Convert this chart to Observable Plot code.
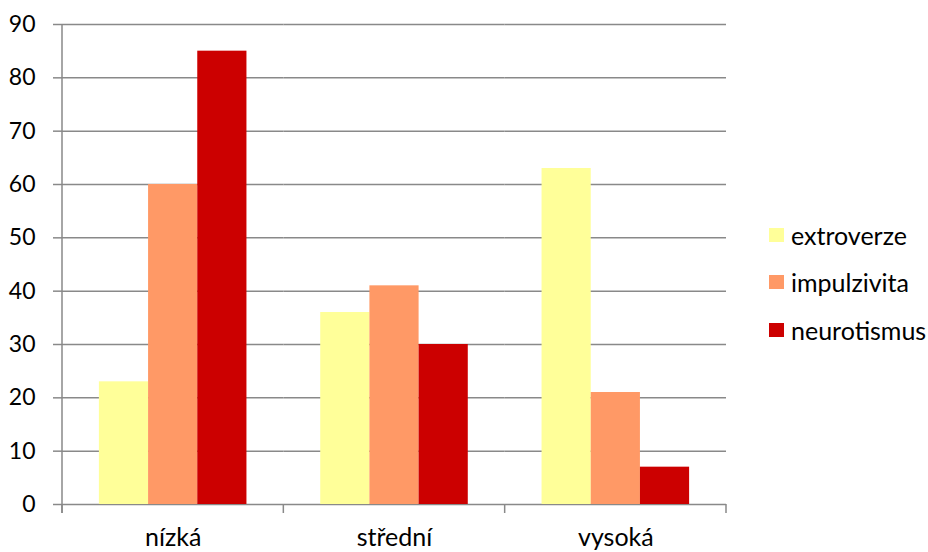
<!DOCTYPE html>
<html><head><meta charset="utf-8">
<script src="https://cdn.jsdelivr.net/npm/d3@7"></script>
<script src="https://cdn.jsdelivr.net/npm/@observablehq/plot@0.6"></script>
<style>
body{margin:0;background:#fff}
#wrap{position:relative;width:928px;height:552px;font-family:Lato,sans-serif}
#legend{position:absolute;left:769px;top:211px}
.row{display:flex;align-items:center;height:47.5px;font-size:25px;color:#000;white-space:nowrap}
.sw{width:15px;height:14px;margin-right:7px;flex:none}
</style></head><body><div id="wrap"></div>
<script>
const categories = ["nízká", "střední", "vysoká"];
const series = ["extroverze", "impulzivita", "neurotismus"];
const extroverze = [23, 36, 63];
const impulzivita = [60, 41, 21];
const neurotismus = [85, 30, 7];
const colors = ["#FFFF99", "#FF9966", "#CC0000"];
const yTicks = [0, 10, 20, 30, 40, 50, 60, 70, 80, 90];

const values = {extroverze, impulzivita, neurotismus};
const data = categories.flatMap((c, i) => series.map(s => ({category: c, series: s, value: values[s][i]})));
const grid = "#898989";

const plot = Plot.plot({
  width: 928, height: 552,
  marginTop: 24, marginBottom: 48, marginLeft: 62, marginRight: 202,
  style: {fontFamily: "Lato, sans-serif", fontSize: "23px", color: "#000", background: "#fff"},
  fx: {domain: categories, padding: 0, round: false, label: null, axis: null},
  x: {domain: series, paddingInner: 0, paddingOuter: 0.75, round: false, axis: null},
  y: {domain: [0, 90], axis: null},
  color: {domain: series, range: colors},
  marks: [
    Plot.gridY(yTicks, {stroke: grid, strokeOpacity: 1, strokeWidth: 1.5}),
    Plot.barY(data, {fx: "category", x: "series", y: "value", fill: "series"}),
    Plot.axisY(yTicks, {tickSize: 9, tickPadding: 18, stroke: grid, strokeWidth: 1.5, label: null, fill: "#000", fontSize: 23}),
    Plot.axisFx({anchor: "bottom", tickSize: 0, tickPadding: 24, label: null, fill: "#000", fontSize: 25})
  ]
});

// category boundary ticks and the vertical axis line, placed through the library's scales
const fx = plot.scale("fx");
const ys = plot.scale("y");
const band = d3.scaleBand(fx.domain, fx.range).paddingInner(fx.paddingInner ?? 0).paddingOuter(fx.paddingOuter ?? 0);
const bounds = fx.domain.map(d => band(d)).concat([band(fx.domain[fx.domain.length - 1]) + band.step()]);
const y0 = ys.apply(0), yTop = ys.apply(yTicks[yTicks.length - 1]);
const g = d3.select(plot).append("g").attr("stroke", grid).attr("stroke-width", 1.5);
g.append("line").attr("x1", bounds[0]).attr("x2", bounds[0]).attr("y1", yTop).attr("y2", y0 + 9);
bounds.forEach(b => g.append("line").attr("x1", b).attr("x2", b).attr("y1", y0).attr("y2", y0 + 9));

const wrap = document.getElementById("wrap");
wrap.appendChild(plot);
const legend = document.createElement("div");
legend.id = "legend";
series.forEach((s, i) => {
  const row = document.createElement("div");
  row.className = "row";
  const sw = document.createElement("span");
  sw.className = "sw";
  sw.style.background = colors[i];
  const t = document.createElement("span");
  t.textContent = s;
  row.appendChild(sw); row.appendChild(t);
  legend.appendChild(row);
});
wrap.appendChild(legend);
</script></body></html>
